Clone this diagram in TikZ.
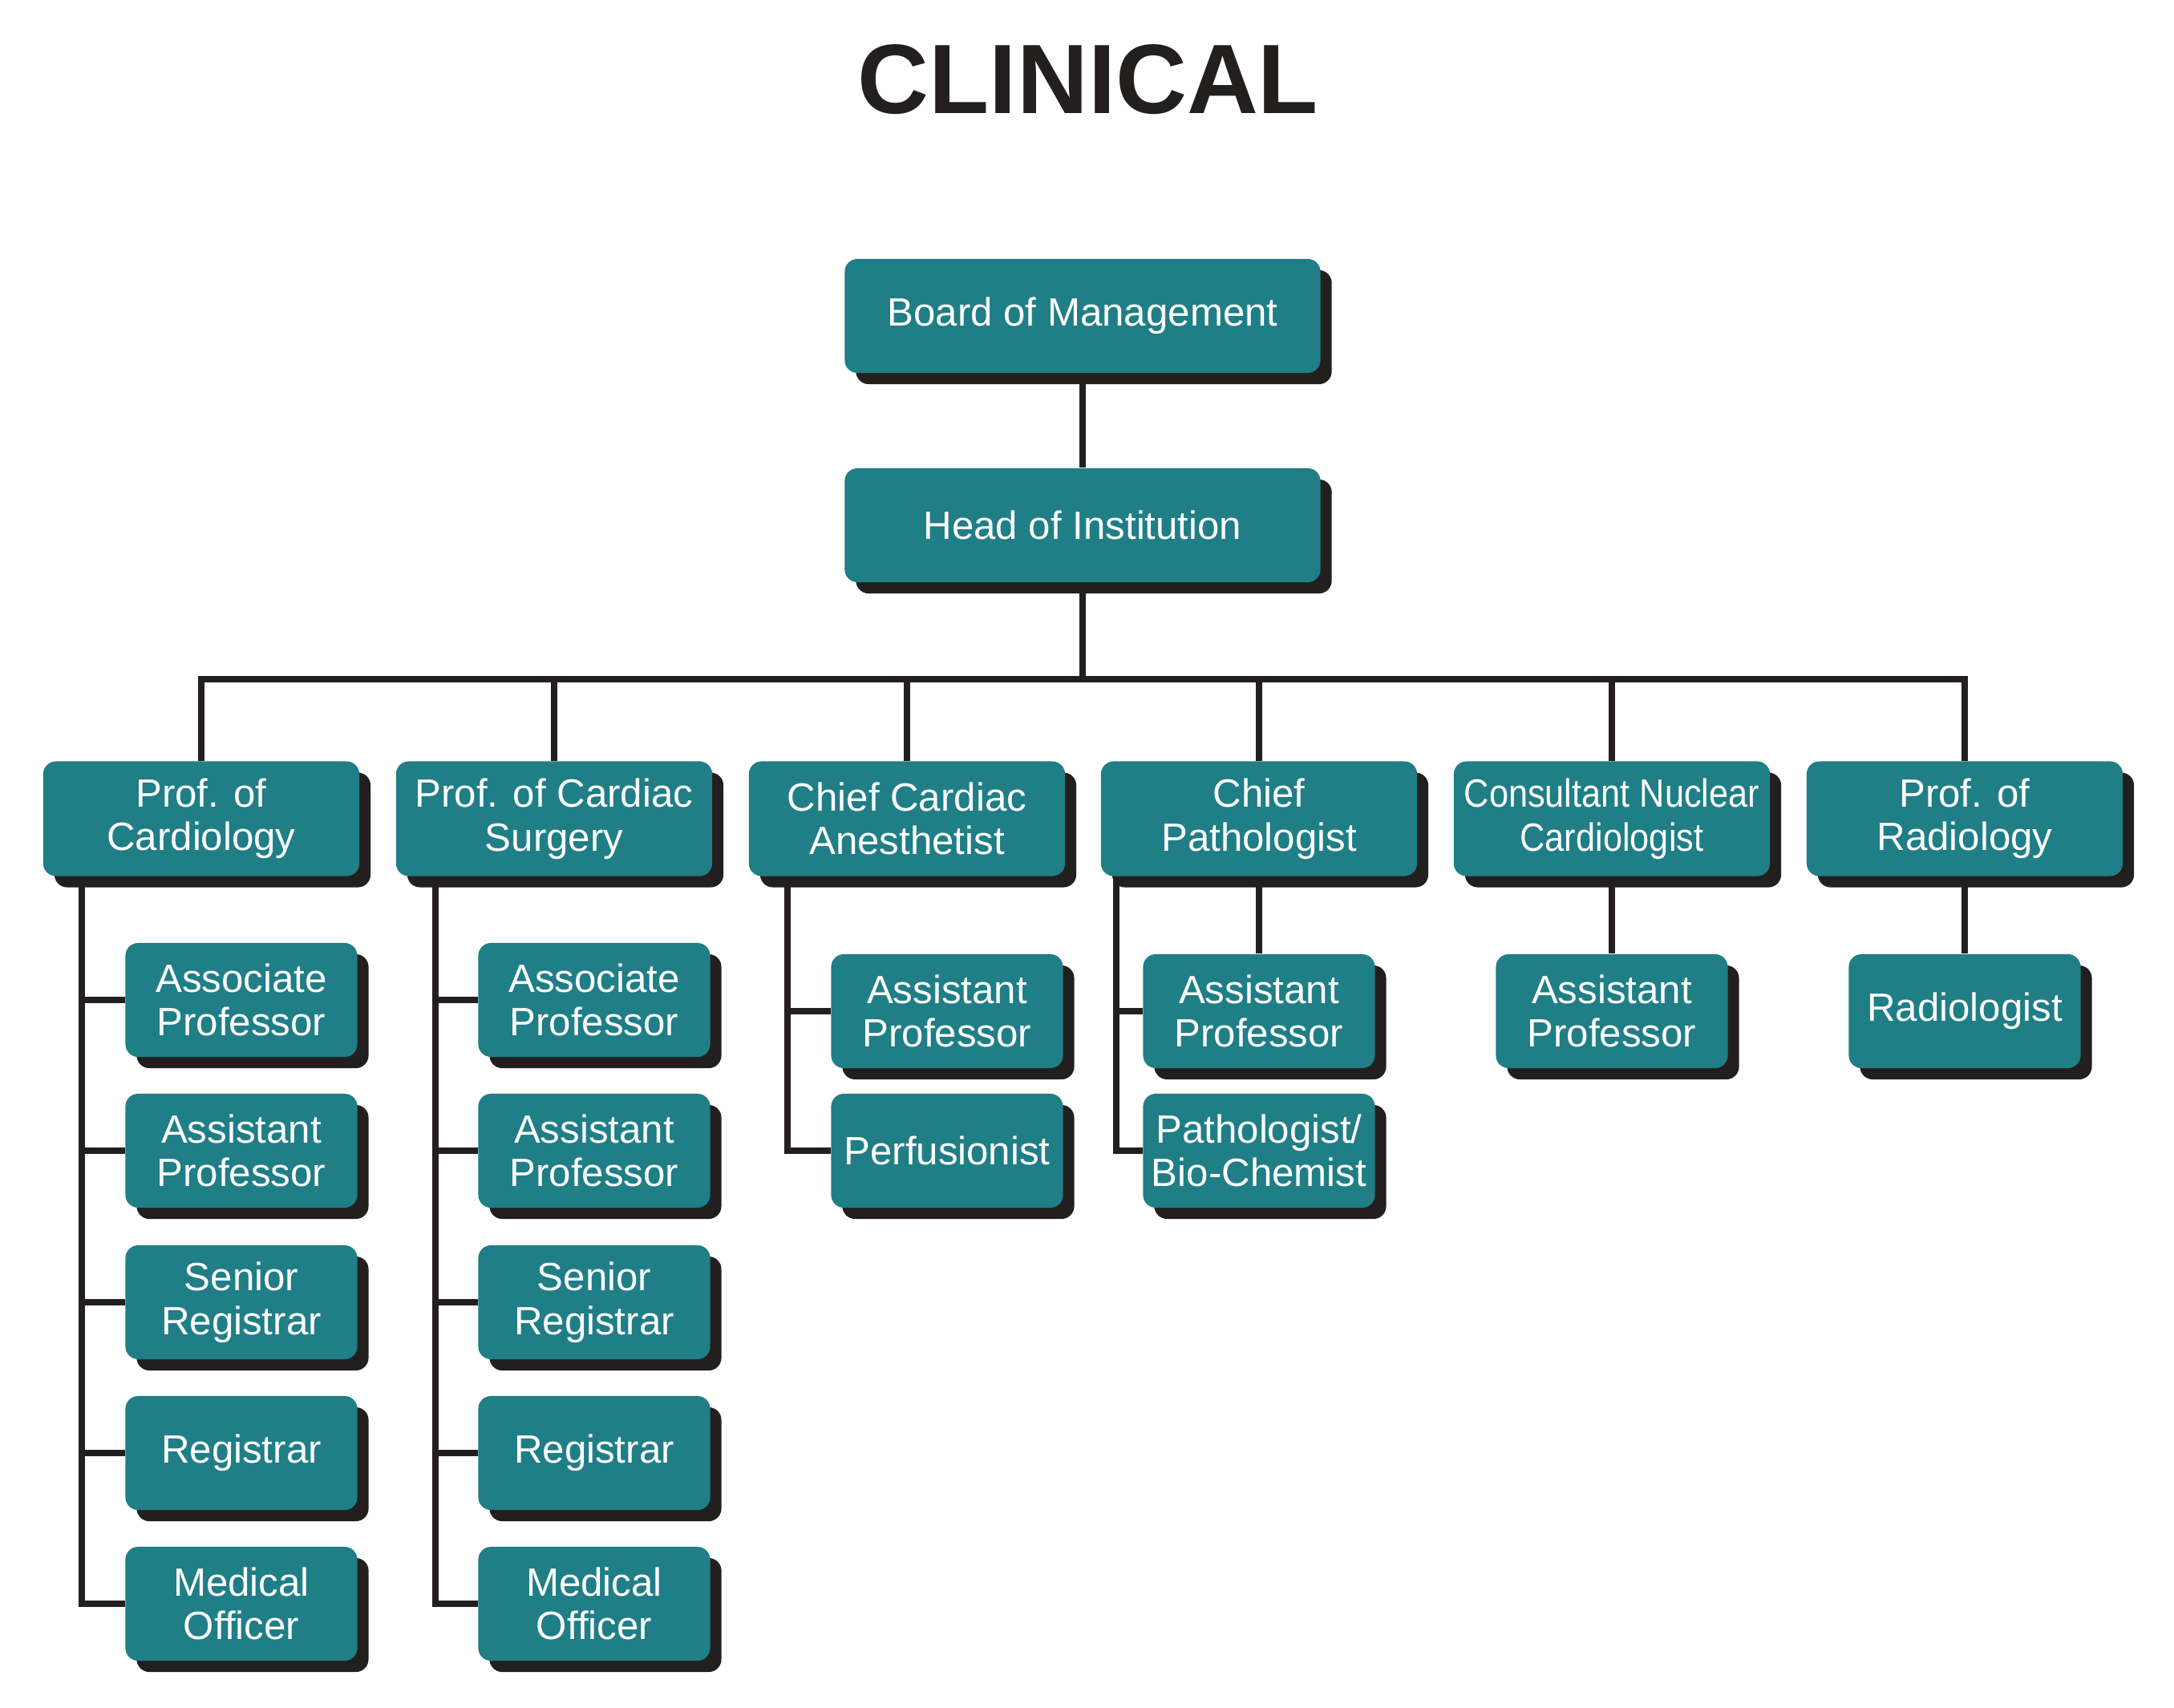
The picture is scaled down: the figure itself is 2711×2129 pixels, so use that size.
\documentclass[tikz,border=0pt]{standalone}
\usepackage{fontspec}
\setmainfont{Liberation Sans}
\usetikzlibrary{backgrounds,shadows}
\definecolor{chartteal}{RGB}{31,126,134}
\definecolor{chartdark}{RGB}{35,31,30}

\begin{document}
\begin{tikzpicture}[x=0.01cm, y=-0.01cm,
    box/.style={fill=chartteal, text=white, rounded corners=4.5pt, align=center, inner sep=1pt,
        font=\fontsize{14}{15.5}\selectfont,
        drop shadow={shadow xshift=1.4mm, shadow yshift=-1.4mm, fill=chartdark, opacity=1}},
    topbox/.style={box, minimum width=5.93cm, minimum height=1.42cm},
    headbox/.style={box, minimum width=3.94cm, minimum height=1.43cm},
    staffbox/.style={box, minimum width=2.89cm, minimum height=1.42cm},
    link/.style={chartdark, line width=2.2pt}]
        \useasboundingbox (0,0) rectangle (2711,2129);

        % Title
        \node[font=\fontsize{35}{40}\selectfont\bfseries, text=chartdark] (title) at (1357,99) {CLINICAL};

        % Top of the chart
        \node[topbox] (board) at (1350,394) {Board of Management};
        \node[topbox] (head) at (1350,655) {Head of Institution};

        % Departments
        \node[headbox] (pcard) at (251,1021) {Prof. of\\Cardiology};
        \node[headbox] (psurg) at (691,1021) {Prof. of Cardiac\\Surgery};
        \node[headbox] (panes) at (1131,1021) {Chief Cardiac\\Anesthetist};
        \node[headbox] (ppath) at (1570,1021) {Chief\\Pathologist};
        \node[headbox] (pnucl) at (2010,1021) {\scalebox{0.88}[1]{Consultant Nuclear}\\\scalebox{0.88}[1]{Cardiologist}};
        \node[headbox] (prad) at (2450,1021) {Prof. of\\Radiology};

        % Cardiology staff
        \node[staffbox] (ca1) at (301,1247) {Associate\\Professor};
        \node[staffbox] (ca2) at (301,1435) {Assistant\\Professor};
        \node[staffbox] (ca3) at (301,1624) {Senior\\Registrar};
        \node[staffbox] (ca4) at (301,1812) {Registrar};
        \node[staffbox] (ca5) at (301,2000) {Medical\\Officer};

        % Cardiac surgery staff
        \node[staffbox] (su1) at (741,1247) {Associate\\Professor};
        \node[staffbox] (su2) at (741,1435) {Assistant\\Professor};
        \node[staffbox] (su3) at (741,1624) {Senior\\Registrar};
        \node[staffbox] (su4) at (741,1812) {Registrar};
        \node[staffbox] (su5) at (741,2000) {Medical\\Officer};

        % Anesthesia staff
        \node[staffbox] (an1) at (1181,1261) {Assistant\\Professor};
        \node[staffbox] (an2) at (1181,1435) {Perfusionist};

        % Pathology staff
        \node[staffbox] (pa1) at (1570,1261) {Assistant\\Professor};
        \node[staffbox] (pa2) at (1570,1435) {Pathologist/\\Bio-Chemist};

        % Nuclear cardiology and radiology staff
        \node[staffbox] (nu1) at (2010,1261) {Assistant\\Professor};
        \node[staffbox] (ra1) at (2450,1261) {Radiologist};

        % Connectors
        \coordinate (bus) at (1350,847);
        \coordinate (cardbar) at (102,0);
        \coordinate (surgbar) at (543,0);
        \coordinate (anesbar) at (982,0);
        \coordinate (pathbar) at (1392,0);
        \begin{scope}[on background layer]
            \draw[link] (board) -- (head);
            \draw[link] (head) -- (bus);
            \draw[link] (pcard) |- (bus) -| (prad);
            \draw[link] (psurg) -- (psurg |- bus);
            \draw[link] (panes) -- (panes |- bus);
            \draw[link] (ppath) -- (ppath |- bus);
            \draw[link] (pnucl) -- (pnucl |- bus);

            \draw[link] (pcard.south -| cardbar) |- (ca5);
            \draw[link] (cardbar |- ca1) -- (ca1);
            \draw[link] (cardbar |- ca2) -- (ca2);
            \draw[link] (cardbar |- ca3) -- (ca3);
            \draw[link] (cardbar |- ca4) -- (ca4);

            \draw[link] (psurg.south -| surgbar) |- (su5);
            \draw[link] (surgbar |- su1) -- (su1);
            \draw[link] (surgbar |- su2) -- (su2);
            \draw[link] (surgbar |- su3) -- (su3);
            \draw[link] (surgbar |- su4) -- (su4);

            \draw[link] (panes.south -| anesbar) |- (an2);
            \draw[link] (anesbar |- an1) -- (an1);

            \draw[link] (ppath) -- (pa1);
            \draw[link] (ppath.south -| pathbar) |- (pa2);
            \draw[link] (pathbar |- pa1) -- (pa1);

            \draw[link] (pnucl) -- (nu1);
            \draw[link] (prad) -- (ra1);
        \end{scope}
    \end{tikzpicture}
\end{document}
